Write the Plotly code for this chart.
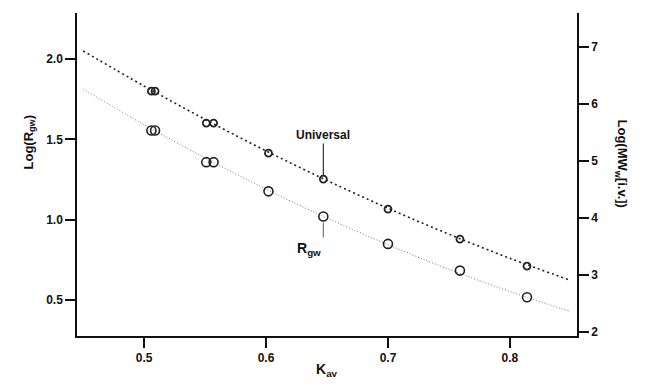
import plotly.graph_objects as go

# Measured points (K_av) and the two calibrations
kav = [0.506, 0.509, 0.551, 0.557, 0.602, 0.647, 0.700, 0.759, 0.814]
log_rgw = [1.555, 1.555, 1.358, 1.358, 1.176, 1.020, 0.849, 0.683, 0.517]
log_mw = [6.228, 6.228, 5.667, 5.667, 5.140, 4.684, 4.158, 3.632, 3.158]

# Fitted calibration curves
fit_kav = [0.45, 0.50, 0.55, 0.60, 0.65, 0.70, 0.75, 0.80, 0.849]
fit_rgw = [1.812, 1.591, 1.384, 1.190, 1.010, 0.844, 0.691, 0.553, 0.430]
fit_mw = [6.935, 6.318, 5.733, 5.180, 4.660, 4.172, 3.717, 3.294, 2.912]

x_ticks = [0.5, 0.6, 0.7, 0.8]
y_ticks = [0.5, 1.0, 1.5, 2.0]
y2_ticks = [2, 3, 4, 5, 6, 7]

FONT = "Liberation Sans, Arial, sans-serif"

fig = go.Figure()
fig.add_trace(go.Scatter(x=fit_kav, y=fit_rgw, mode="lines", line_shape="spline",
                         line=dict(color="#777", width=1, dash="1px,2px"), yaxis="y",
                         showlegend=False, hoverinfo="skip"))
fig.add_trace(go.Scatter(x=fit_kav, y=fit_mw, mode="lines", line_shape="spline",
                         line=dict(color="#222", width=1.6, dash="2px,3px"), yaxis="y2",
                         showlegend=False, hoverinfo="skip"))
fig.add_trace(go.Scatter(x=kav, y=log_rgw, mode="markers", yaxis="y",
                         marker=dict(symbol="circle-open", size=9, color="#222",
                                     line=dict(width=1.6, color="#222")),
                         showlegend=False))
fig.add_trace(go.Scatter(x=kav, y=log_mw, mode="markers", yaxis="y2",
                         marker=dict(symbol="circle-open", size=7, color="#222",
                                     line=dict(width=1.8, color="#222")),
                         showlegend=False))

# Annotations
fig.add_annotation(x=kav[5], y=log_mw[5], xref="x", yref="y2", text="Universal",
                   showarrow=True, arrowhead=0, arrowwidth=1.2, arrowcolor="#333",
                   ax=0, ay=-44, standoff=4,
                   font=dict(family=FONT, size=12, color="#111", weight="bold"))
fig.add_shape(type="line", xref="x", yref="y", x0=kav[5], x1=kav[5],
              ysizemode="pixel", yanchor=log_rgw[5], y0=-6, y1=-21,
              line=dict(color="#777", width=1.2))
fig.add_annotation(x=kav[5], y=log_rgw[5], xref="x", yref="y",
                   text="R<sub>gw</sub>", showarrow=False, xshift=-14, yshift=-33,
                   font=dict(family=FONT, size=14, color="#111", weight="bold"))

L, R, T, B = 77, 71, 13, 56
W, H = 648, 392
pw, ph = W - L - R, H - T - B

def px(xp):
    return (xp - L) / pw

def py(yp):
    return (H - B - yp) / ph

fig.add_annotation(x=px(19), y=py(142), xref="paper", yref="paper",
                   text="Log(R<sub>gw</sub>)", textangle=-90, showarrow=False,
                   font=dict(family=FONT, size=13, color="#111", weight="bold"))
fig.add_annotation(x=px(632), y=py(163), xref="paper", yref="paper",
                   text="Log(MW<sub>w</sub>[i.v.])", textangle=90, showarrow=False,
                   font=dict(family=FONT, size=13, color="#111", weight="bold"))
fig.add_annotation(x=0.5, y=py(381), xref="paper", yref="paper",
                   text="K<sub>av</sub>", showarrow=False,
                   font=dict(family=FONT, size=14, color="#111", weight="bold"))

axis_common = dict(showgrid=False, zeroline=False, showline=True, linecolor="#111",
                   linewidth=1.5, ticks="outside", ticklen=10, tickwidth=1.5,
                   tickcolor="#111",
                   tickfont=dict(family=FONT, size=12, color="#111", weight="bold"))

fig.update_layout(
    width=W, height=H,
    margin=dict(l=L, r=R, t=T, b=B),
    paper_bgcolor="white", plot_bgcolor="white",
    xaxis=dict(range=[0.445, 0.855], tickvals=x_ticks, tickformat=".1f", **axis_common),
    yaxis=dict(range=[0.276, 2.286], tickvals=y_ticks, tickformat=".1f", **axis_common),
    yaxis2=dict(range=[1.93, 7.6], tickvals=y2_ticks, overlaying="y", side="right",
                **axis_common),
)

fig.write_html("out.html")
